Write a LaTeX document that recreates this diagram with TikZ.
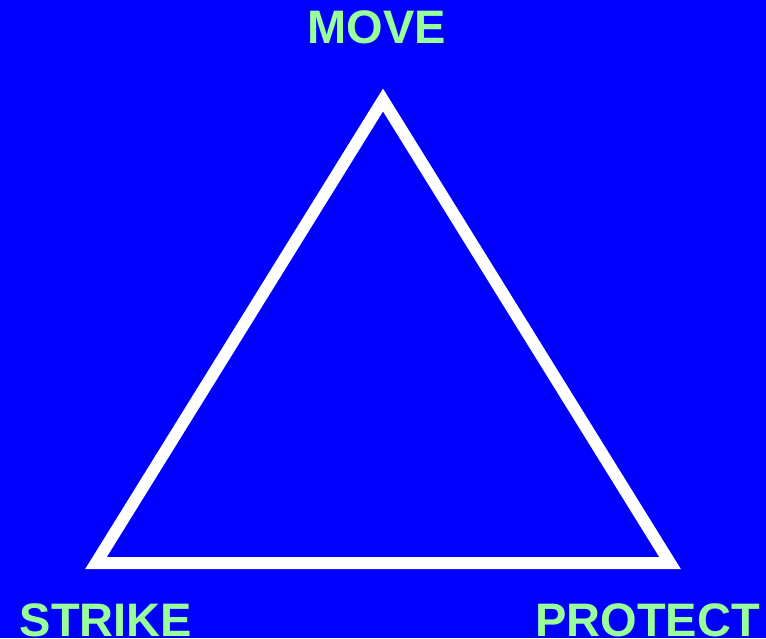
\documentclass[tikz,border=0pt]{standalone}
\usepackage{fontspec}
\setmainfont{Liberation Sans}
\usepackage{tikz}
\usetikzlibrary{positioning}
\definecolor{bgblue}{RGB}{0,0,255}
\definecolor{lblgreen}{RGB}{153,255,153}

\begin{document}
\begin{tikzpicture}[
    x=1pt, y=-1pt,
    lbl/.style={text=lblgreen, inner sep=0pt, font=\fontsize{47}{47}\selectfont\bfseries},
    side/.style={draw=white, line width=12pt, miter limit=10}
  ]
    \fill[bgblue] (0,0) rectangle (766,638);
    \useasboundingbox (0,0) rectangle (766,638);
    \coordinate (move) at (383,100);
    \coordinate (strike) at (96,563);
    \coordinate (protect) at (670,563);
    \draw[side] (move) -- (strike) -- (protect) -- cycle;
    \node[lbl, anchor=base] (movelbl) at (377,43) {MOVE};
    \node[lbl, anchor=base] (strikelbl) at (106,636) {STRIKE};
    \node[lbl, anchor=base west] (protectlbl) at (535,636) {PROTECT};
  \end{tikzpicture}
\end{document}
